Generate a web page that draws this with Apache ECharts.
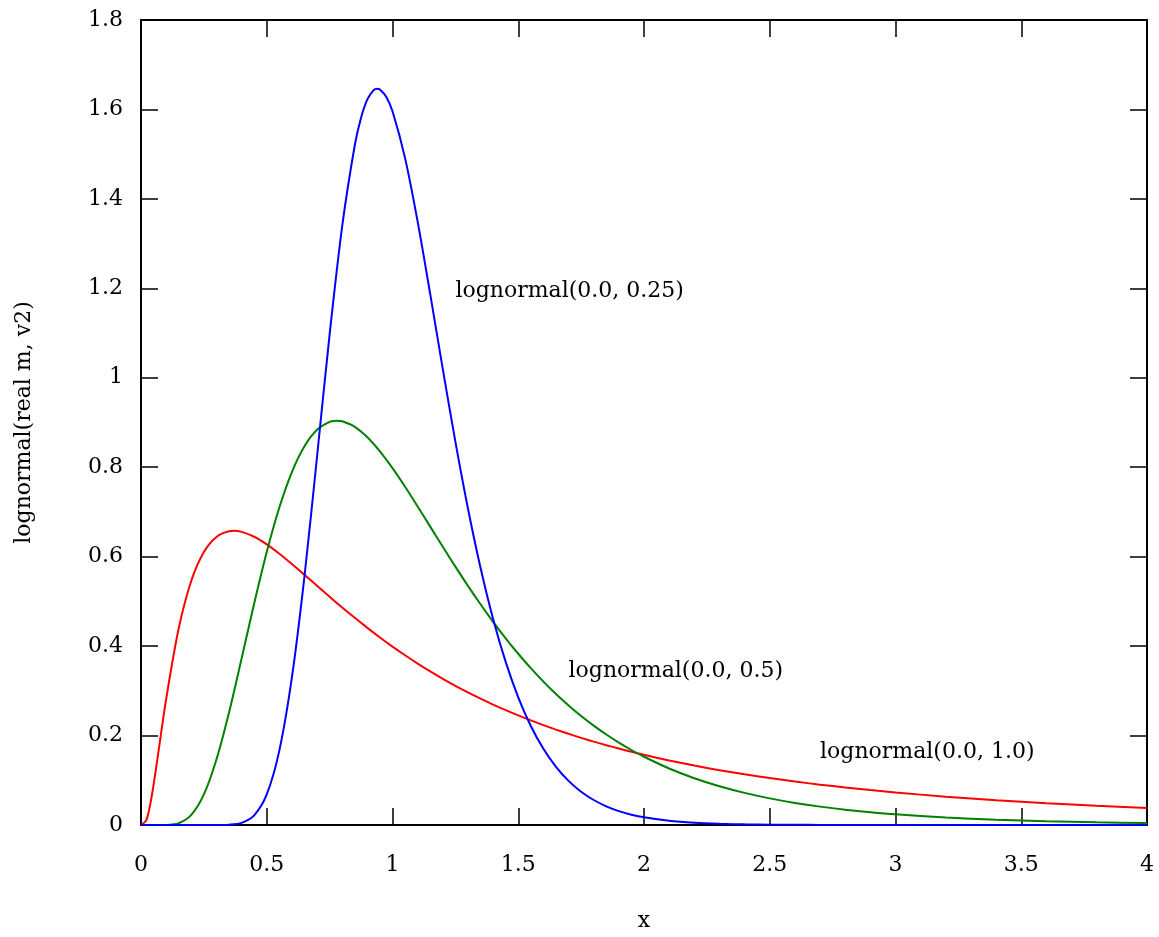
<!DOCTYPE html>
<html>
<head>
<meta charset="utf-8">
<script src="https://cdn.jsdelivr.net/npm/echarts@6/dist/echarts.min.js"></script>
<style>
html,body{margin:0;padding:0;background:#fff;}
#chart{width:1159px;height:937px;}
</style>
</head>
<body>
<div id="chart"></div>
<script>
// lognormal(0.0, 1.0) - red
var redX = [0, 0.02, 0.03, 0.04, 0.05, 0.07,
  0.1, 0.15, 0.2, 0.25, 0.3, 0.35, 0.3679, 0.4, 0.45, 0.5, 0.55, 0.6, 0.65, 0.7, 0.75, 0.8, 0.85, 0.9, 0.95, 1.0,
  1.05, 1.1, 1.15, 1.2, 1.25, 1.3, 1.35, 1.4, 1.45, 1.5, 1.55, 1.6, 1.65, 1.7, 1.75, 1.8, 1.85, 1.9, 1.95, 2.0,
  2.1, 2.2, 2.3, 2.4, 2.5, 2.6, 2.7, 2.8, 2.9, 3.0,
  3.2, 3.4, 3.6, 3.8, 4.0];
var redY = [0, 0.0095, 0.0284, 0.0562, 0.0898, 0.1661,
  0.2816, 0.4399, 0.5462, 0.6105, 0.6442, 0.6570, 0.6577, 0.6555, 0.6445, 0.6275, 0.6067, 0.5836, 0.5594, 0.5348, 0.5103, 0.4864, 0.4632, 0.4408, 0.4194, 0.3989,
  0.3795, 0.3610, 0.3435, 0.3270, 0.3113, 0.2965, 0.2825, 0.2693, 0.2568, 0.2450, 0.2338, 0.2233, 0.2133, 0.2039, 0.1949, 0.1865, 0.1785, 0.1709, 0.1637, 0.1569,
  0.1443, 0.1329, 0.1226, 0.1133, 0.1049, 0.0972, 0.0902, 0.0839, 0.0780, 0.0727,
  0.0634, 0.0555, 0.0488, 0.0431, 0.0382];

// lognormal(0.0, 0.5) - green
var greenX = [0, 0.05, 0.1, 0.15, 0.2, 0.25, 0.3, 0.35, 0.4, 0.45, 0.5, 0.55, 0.6, 0.65, 0.7, 0.75, 0.7788, 0.8, 0.85, 0.9, 0.95, 1.0,
  1.05, 1.1, 1.15, 1.2, 1.25, 1.3, 1.35, 1.4, 1.45, 1.5, 1.55, 1.6, 1.65, 1.7, 1.75, 1.8, 1.85, 1.9, 1.95, 2.0,
  2.1, 2.2, 2.3, 2.4, 2.5, 2.6, 2.7, 2.8, 2.9, 3.0,
  3.2, 3.4, 3.6, 3.8, 4.0];
var greenY = [0, 0, 0.0002, 0.0040, 0.0225, 0.0684, 0.1465, 0.2516, 0.3721, 0.4953, 0.6104, 0.7099, 0.7892, 0.8469, 0.8838, 0.9015, 0.9041, 0.9028, 0.8904, 0.8671, 0.8355, 0.7979,
  0.7563, 0.7123, 0.6672, 0.6221, 0.5778, 0.5348, 0.4936, 0.4544, 0.4175, 0.3829, 0.3506, 0.3206, 0.2928, 0.2673, 0.2437, 0.2221, 0.2023, 0.1842, 0.1677, 0.1526,
  0.1264, 0.1046, 0.0866, 0.0718, 0.0595, 0.0494, 0.0411, 0.0342, 0.0285, 0.0238,
  0.0167, 0.0117, 0.0083, 0.0059, 0.0043];

// lognormal(0.0, 0.25) - blue
var blueX = [0, 0.1, 0.2, 0.3, 0.35, 0.4, 0.45, 0.5, 0.55, 0.6, 0.65, 0.7, 0.75, 0.8, 0.85, 0.875, 0.9, 0.925, 0.9394, 0.95, 0.975, 1.0,
  1.05, 1.1, 1.15, 1.2, 1.25, 1.3, 1.35, 1.4, 1.45, 1.5, 1.55, 1.6, 1.65, 1.7, 1.75, 1.8, 1.85, 1.9, 1.95, 2.0,
  2.1, 2.2, 2.3, 2.4, 2.5, 2.6, 2.7, 2.8, 2.9, 3.0,
  3.2, 3.4, 3.6, 3.8, 4.0];
var blueY = [0, 0, 0, 0, 0.0007, 0.0048, 0.0216, 0.0683, 0.1663, 0.3299, 0.5561, 0.8240, 1.0971, 1.3392, 1.5199, 1.5813, 1.6224, 1.6433, 1.6464, 1.6448, 1.6283, 1.5958,
  1.4911, 1.3491, 1.1869, 1.0193, 0.8571, 0.7077, 0.5751, 0.4608, 0.3647, 0.2856, 0.2214, 0.1703, 0.1300, 0.0987, 0.0744, 0.0559, 0.0418, 0.0311, 0.0231, 0.0171,
  0.0093, 0.0050, 0.0027, 0.0014, 0.0008, 0.0004, 0.0002, 0.0001, 0, 0,
  0, 0, 0, 0, 0];

// curve labels
var labelTexts = ['lognormal(0.0, 0.25)', 'lognormal(0.0, 0.5)', 'lognormal(0.0, 1.0)'];
var labelX = [1.25, 1.7, 2.7];
var labelY = [1.2, 0.35, 0.17];

var xTicks = [0, 0.5, 1, 1.5, 2, 2.5, 3, 3.5, 4];
var yTicks = [0, 0.2, 0.4, 0.6, 0.8, 1, 1.2, 1.4, 1.6, 1.8];

var FONT = 'DejaVu Serif';
var FS = 22;

function pairs(xv, yv) {
  return xv.map(function (x, i) { return [x, yv[i]]; });
}

var chart = echarts.init(document.getElementById('chart'), null, { renderer: 'canvas' });

var axisCommon = {
  type: 'value',
  axisLine: { show: true, onZero: false, lineStyle: { color: '#000', width: 2 } },
  axisTick: { show: true, inside: true, length: 17, lineStyle: { color: '#000', width: 1.5 } },
  splitLine: { show: false }
};

var option = {
  backgroundColor: '#fff',
  animation: false,
  textStyle: { fontFamily: FONT },
  grid: { left: 141, right: 12, top: 20, bottom: 105, containLabel: false },
  xAxis: [
    Object.assign({}, axisCommon, {
      min: xTicks[0], max: xTicks[xTicks.length - 1], interval: 0.5, position: 'bottom',
      name: 'x', nameLocation: 'middle', nameGap: 85,
      nameTextStyle: { fontFamily: FONT, fontSize: FS, color: '#000' },
      axisLabel: { show: true, margin: 29, fontFamily: FONT, fontSize: FS, color: '#000' }
    }),
    Object.assign({}, axisCommon, {
      min: xTicks[0], max: xTicks[xTicks.length - 1], interval: 0.5, position: 'top',
      axisLabel: { show: false }
    })
  ],
  yAxis: [
    Object.assign({}, axisCommon, {
      min: yTicks[0], max: yTicks[yTicks.length - 1], interval: 0.2, position: 'left',
      name: 'lognormal(real m, v2)', nameLocation: 'middle', nameGap: 106, nameRotate: 90,
      nameTextStyle: { fontFamily: FONT, fontSize: FS, color: '#000' },
      axisLabel: { show: true, margin: 18, fontFamily: FONT, fontSize: FS, color: '#000',
        formatter: function (v) { return String(Math.round(v * 10) / 10); } }
    }),
    Object.assign({}, axisCommon, {
      min: yTicks[0], max: yTicks[yTicks.length - 1], interval: 0.2, position: 'right',
      axisLabel: { show: false }
    })
  ],
  series: [
    { type: 'line', data: pairs(redX, redY), showSymbol: false, smooth: 0.3, lineStyle: { color: '#ff0000', width: 2 }, itemStyle: { color: '#ff0000' }, z: 3 },
    { type: 'line', data: pairs(greenX, greenY), showSymbol: false, smooth: 0.3, lineStyle: { color: '#008000', width: 2 }, itemStyle: { color: '#008000' }, z: 3 },
    { type: 'line', data: pairs(blueX, blueY), showSymbol: false, smooth: 0.3, lineStyle: { color: '#0000ff', width: 2 }, itemStyle: { color: '#0000ff' }, z: 3 },
    {
      type: 'scatter', symbolSize: 0, silent: true,
      itemStyle: { opacity: 1, color: '#000' },
      data: labelTexts.map(function (t, i) { return { value: [labelX[i], labelY[i]], name: t }; }),
      label: { show: true, position: 'right', distance: 0, offset: [0, 3], formatter: '{b}', fontFamily: FONT, fontSize: FS, color: '#000' }
    }
  ]
};
chart.setOption(option);
</script>
</body>
</html>
